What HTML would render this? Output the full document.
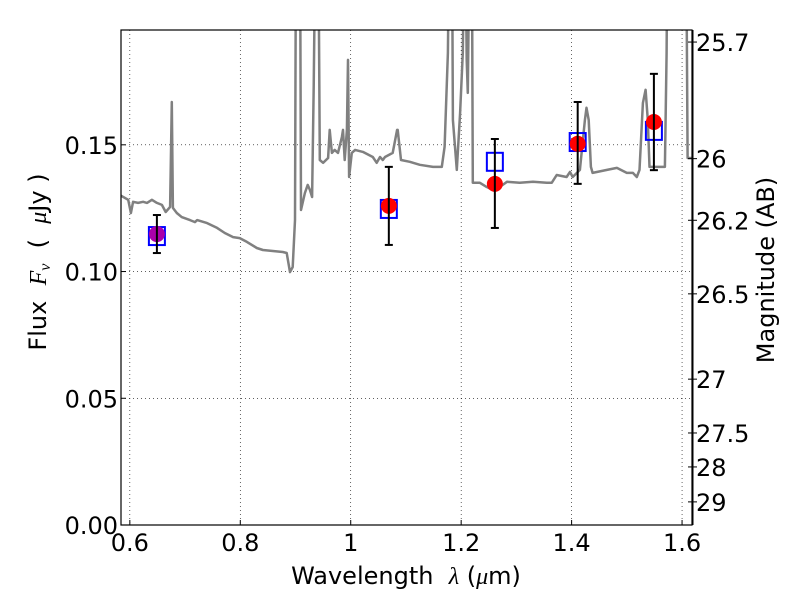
<!DOCTYPE html>
<html><head><meta charset="utf-8"><style>
body{margin:0;background:#fff;}
svg text{font-family:"DejaVu Sans","Liberation Sans",sans-serif;fill:#000;}
</style></head><body>
<svg id="chart" width="800" height="600" xmlns="http://www.w3.org/2000/svg">
<rect width="800" height="600" fill="#fff"/>
<g id="grid"></g>
<g id="plot"></g>
<g id="axes"></g>
<text x="406" y="584" style="font-size:24px" text-anchor="middle">Wavelength&#160;&#160;<tspan font-style="italic" font-family="Liberation Serif">λ</tspan> (<tspan font-style="italic" font-family="Liberation Serif">μ</tspan>m)</text>
<text x="0" y="0" style="font-size:24px" text-anchor="middle" transform="translate(46,262) rotate(-90)">Flux&#160;&#160;<tspan font-style="italic" font-family="Liberation Serif">F</tspan><tspan font-style="italic" font-family="Liberation Serif" style="font-size:16px" dy="4">ν</tspan><tspan dy="-4">&#160;&#160;(&#160;&#160;</tspan><tspan font-style="italic" font-family="Liberation Serif">μ</tspan>Jy )</text>
<text x="0" y="0" style="font-size:24px" text-anchor="middle" transform="translate(774,270) rotate(-90)">Magnitude (AB)</text>
</svg>
<script>
const specLam=[0.582,0.597,0.602,0.606,0.615,0.624,0.631,0.640,0.649,0.658,0.665,0.673,0.676,0.678,0.685,0.694,0.709,0.718,0.722,0.740,0.758,0.772,0.787,0.799,0.812,0.830,0.841,0.877,0.884,0.890,0.895,0.899,0.901,0.908,0.910,0.917,0.922,0.926,0.930,0.933,0.937,0.941,0.944,0.950,0.959,0.962,0.966,0.971,0.977,0.984,0.986,0.989,0.993,0.995,0.997,1.002,1.008,1.022,1.040,1.047,1.053,1.058,1.062,1.076,1.084,1.085,1.091,1.107,1.125,1.149,1.165,1.170,1.176,1.179,1.183,1.185,1.192,1.198,1.203,1.207,1.210,1.212,1.216,1.219,1.221,1.234,1.246,1.257,1.270,1.283,1.306,1.330,1.355,1.364,1.373,1.391,1.397,1.402,1.415,1.424,1.427,1.431,1.435,1.438,1.464,1.482,1.500,1.511,1.518,1.523,1.529,1.534,1.538,1.541,1.569,1.572,1.574,1.607,1.610,1.623];
const specFlux=[0.1302,0.1283,0.1231,0.1275,0.1271,0.1275,0.1271,0.1283,0.1271,0.1263,0.1235,0.1255,0.1669,0.1251,0.1231,0.1215,0.1203,0.1195,0.1203,0.1191,0.1172,0.1152,0.1136,0.1132,0.1117,0.1093,0.1085,0.1077,0.1073,0.0998,0.1018,0.1203,0.25,0.25,0.1243,0.1310,0.1342,0.1322,0.1294,0.1728,0.25,0.25,0.1440,0.1429,0.1448,0.1559,0.1468,0.1480,0.1468,0.1531,0.1559,0.1440,0.1559,0.1835,0.1373,0.1468,0.1480,0.1472,0.1452,0.1429,0.1452,0.1440,0.1452,0.1468,0.1559,0.1559,0.1440,0.1433,0.1421,0.1413,0.1413,0.1492,0.1863,0.25,0.25,0.1598,0.1401,0.1626,0.1863,0.25,0.1835,0.1705,0.25,0.25,0.1350,0.1350,0.1334,0.1322,0.1334,0.1354,0.1350,0.1354,0.1350,0.1350,0.1381,0.1373,0.1393,0.1373,0.1401,0.1598,0.1646,0.1598,0.1413,0.1389,0.1401,0.1409,0.1389,0.1389,0.1373,0.1401,0.1665,0.1717,0.1598,0.1413,0.1413,0.1863,0.25,0.25,0.1448,0.1448];
const bandLam=[0.649,1.069,1.261,1.411,1.549];
const obsFlux=[0.1148,0.1259,0.1346,0.1504,0.159];
const errHi=[0.1223,0.1413,0.1523,0.1669,0.178];
const errLo=[0.1073,0.1105,0.1172,0.1346,0.140];
const modelFlux=[0.114,0.1247,0.1433,0.1511,0.1555];
const xTicks=[0.6,0.8,1.0,1.2,1.4,1.6];
const xTickLabels=["0.6","0.8","1","1.2","1.4","1.6"];
const yTicks=[0,0.05,0.10,0.15];
const yTickLabels=["0.00","0.05","0.10","0.15"];
const magTicks=[25.7,26,26.2,26.5,27,27.5,28,29];
const magTickLabels=["25.7","26","26.2","26.5","27","27.5","28","29"];

const L=121,R=692,T=30,B=525,XMIN=0.584,XMAX=1.618,YMIN=0,YMAX=0.1953;
const sx=v=>L+(v-XMIN)/(XMAX-XMIN)*(R-L);
const sy=v=>B-(v-YMIN)/(YMAX-YMIN)*(B-T);
const magToFlux=m=>Math.pow(10,-(m-23.9)/2.5);
const NS="http://www.w3.org/2000/svg";
function mk(tag,parent,attrs){const e=document.createElementNS(NS,tag);for(const k in attrs)e.setAttribute(k,attrs[k]);parent.appendChild(e);return e;}
const svg=document.getElementById('chart');
const grid=document.getElementById('grid'),plot=document.getElementById('plot'),axes=document.getElementById('axes');
const defs=mk('defs',svg,{});const cp=mk('clipPath',defs,{id:'clip'});mk('rect',cp,{x:L,y:T,width:R-L,height:B-T});
plot.setAttribute('clip-path','url(#clip)');
xTicks.forEach((t,i)=>{
  const g=mk('line',grid,{x1:sx(t),x2:sx(t),y1:T,y2:B,stroke:'#000','stroke-width':0.6,'stroke-dasharray':'1,3'});
  
  
  const tk=mk('line',axes,{x1:sx(t),x2:sx(t),y1:B,y2:B-5,stroke:'#000','stroke-width':1});
  
  
  const tx=mk('text',axes,{x:sx(t),y:B+26,style:'font-size:24px','text-anchor':'middle'});tx.textContent=xTickLabels[i];
  
  
});
yTicks.forEach((t,i)=>{
  const g=mk('line',grid,{x1:L,x2:R,y1:sy(t),y2:sy(t),stroke:'#000','stroke-width':0.6,'stroke-dasharray':'1,3'});
  
  
  const tk=mk('line',axes,{x1:L,x2:L+5,y1:sy(t),y2:sy(t),stroke:'#000','stroke-width':1});
  
  
  const tx=mk('text',axes,{x:L-3,y:sy(t)+9,style:'font-size:24px','text-anchor':'end'});tx.textContent=yTickLabels[i];
  
  
});
let d='';specLam.forEach((l,i)=>{d+=(i?'L':'M')+sx(l).toFixed(1)+','+sy(specFlux[i]).toFixed(1);});
const sp=mk('path',plot,{d:d,fill:'none',stroke:'#808080','stroke-width':2.5,'stroke-linejoin':'round'});


bandLam.forEach((l,i)=>{
  const x=sx(l);
  const sq=mk('rect',plot,{x:x-8,y:sy(modelFlux[i])-9,width:16,height:18,fill:'none',stroke:'#0000ff','stroke-width':2});
  
  
  const c=mk('circle',plot,{cx:x,cy:sy(obsFlux[i]),r:8,fill:i===0?'#aa00aa':'#ff0000'});
  
  
  const eg=mk('g',plot,{stroke:'#000','stroke-width':2});
  
  
  mk('line',eg,{x1:x,x2:x,y1:sy(errHi[i]),y2:sy(errLo[i])});
  mk('line',eg,{x1:x-4,x2:x+4,y1:sy(errHi[i]),y2:sy(errHi[i])});
  mk('line',eg,{x1:x-4,x2:x+4,y1:sy(errLo[i]),y2:sy(errLo[i])});
});
const fr=mk('rect',axes,{x:L,y:T,width:R-L,height:B-T,fill:'none',stroke:'#000','stroke-width':1.2});


const ra=mk('line',axes,{x1:R+1,x2:R+1,y1:T,y2:B,stroke:'#000','stroke-width':1});


magTicks.forEach((m,i)=>{
  const y=sy(magToFlux(m));
  const tk=mk('line',axes,{x1:R-4,x2:R+5,y1:y,y2:y,stroke:'#000','stroke-width':1});
  
  
  const tx=mk('text',axes,{x:R+4,y:y+9,style:'font-size:24px','text-anchor':'start'});tx.textContent=magTickLabels[i];
  
  
});
</script>
</body></html>
